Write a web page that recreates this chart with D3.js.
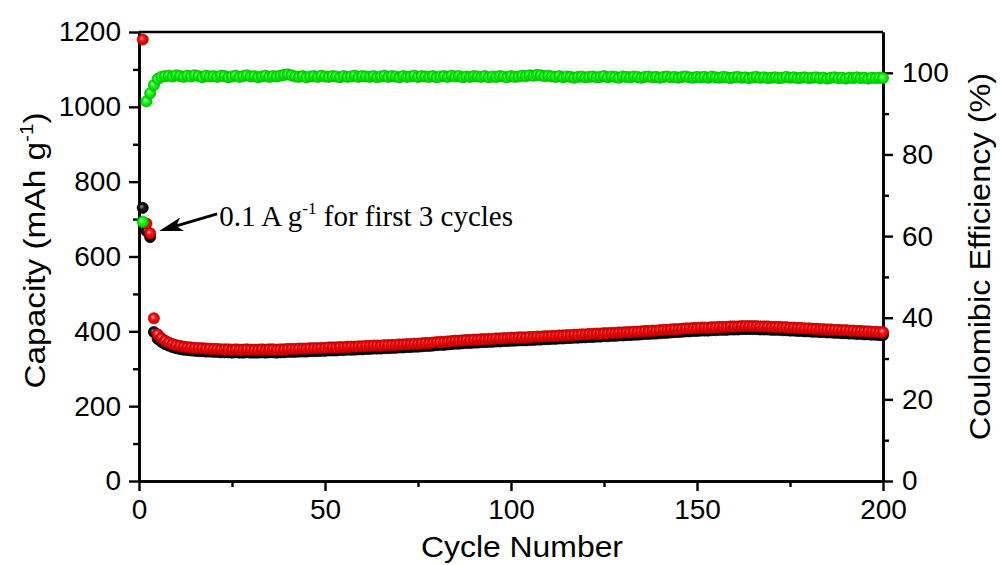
<!DOCTYPE html>
<html lang="en">
<head>
<meta charset="UTF-8">
<title>Cycling performance</title>
<script src="https://cdn.jsdelivr.net/npm/d3@7"></script>
<style>
  body { margin: 0; background: #fff; }
  svg text { font-family: "Liberation Sans", Arial, sans-serif; fill: #000; }
</style>
</head>
<body>
<script>
// discharge capacity (red), mAh/g, cycles 1..200
const discharge = [
  1180, 688, 662, 435, 392, 382, 375, 370, 366, 363,
  361, 359, 358, 357, 356, 355, 355, 354, 354, 353,
  353, 352, 352, 352, 351, 352, 351, 351, 352, 351,
  351, 351, 352, 351, 352, 352, 351, 352, 352, 353,
  353, 353, 354, 354, 354, 355, 355, 355, 356, 356,
  357, 357, 357, 358, 358, 359, 359, 359, 360, 360,
  361, 361, 362, 362, 362, 363, 363, 364, 364, 365,
  365, 366, 366, 367, 367, 368, 369, 369, 370, 371,
  372, 372, 373, 374, 375, 375, 376, 377, 377, 378,
  378, 379, 379, 380, 380, 381, 381, 382, 382, 383,
  383, 384, 384, 384, 385, 385, 386, 386, 387, 387,
  388, 388, 389, 389, 390, 390, 391, 391, 392, 392,
  393, 393, 394, 394, 395, 395, 396, 396, 397, 397,
  398, 398, 399, 399, 400, 401, 401, 402, 402, 403,
  404, 404, 405, 406, 406, 407, 408, 408, 409, 409,
  410, 410, 410, 411, 411, 412, 412, 412, 413, 413,
  413, 414, 414, 414, 414, 414, 413, 413, 413, 412,
  412, 412, 411, 411, 410, 410, 409, 409, 408, 408,
  407, 407, 406, 406, 405, 405, 404, 404, 403, 403,
  402, 402, 401, 401, 400, 400, 399, 399, 398, 398
];

// charge capacity (black)
const charge = [
  730, 668, 652, 398, 380, 372, 366, 362, 358, 355,
  353, 351, 350, 349, 348, 347, 347, 346, 346, 345,
  345, 344, 344, 344, 343, 344, 343, 343, 344, 343,
  343, 343, 344, 343, 344, 344, 343, 344, 344, 345,
  345, 345, 346, 346, 346, 347, 347, 347, 348, 348,
  349, 349, 349, 350, 350, 351, 351, 351, 352, 352,
  353, 353, 354, 354, 354, 355, 355, 356, 356, 357,
  357, 358, 358, 359, 359, 360, 361, 361, 362, 363,
  364, 364, 365, 366, 367, 367, 368, 369, 369, 370,
  370, 371, 371, 372, 372, 373, 373, 374, 374, 375,
  375, 376, 376, 376, 377, 377, 378, 378, 379, 379,
  380, 380, 381, 381, 382, 382, 383, 383, 384, 384,
  385, 385, 386, 386, 387, 387, 388, 388, 389, 389,
  390, 390, 391, 391, 392, 393, 393, 394, 394, 395,
  396, 396, 397, 398, 398, 399, 400, 400, 401, 401,
  402, 402, 402, 403, 403, 404, 404, 404, 405, 405,
  405, 406, 406, 406, 406, 406, 405, 405, 405, 404,
  404, 404, 403, 403, 402, 402, 401, 401, 400, 400,
  399, 399, 398, 398, 397, 397, 396, 396, 395, 395,
  394, 394, 393, 393, 392, 392, 391, 391, 390, 390
];

// coulombic efficiency (green), %
const efficiency = [
  63.5, 93.0, 95.0, 97.0, 98.5, 99.0, 99.2, 99.3, 99.1, 99.4,
  99.2, 99.0, 99.3, 99.1, 99.4, 99.2, 98.9, 99.3, 99.1, 99.2,
  99.0, 99.3, 99.2, 98.9, 99.1, 99.3, 99.0, 99.2, 99.4, 99.1,
  99.2, 98.9, 99.1, 99.3, 99.0, 99.2, 99.1, 99.3, 99.5, 99.6,
  99.4, 99.1, 99.0, 99.2, 98.9, 99.1, 99.2, 99.0, 99.3, 99.1,
  99.0, 99.2, 99.1, 98.9, 99.2, 99.0, 99.1, 99.3, 99.0, 99.2,
  99.1, 99.0, 99.2, 98.9, 99.1, 99.3, 99.0, 99.2, 99.1, 98.9,
  99.2, 99.0, 99.1, 99.3, 99.0, 99.2, 99.1, 99.0, 99.2, 98.9,
  99.1, 99.2, 99.0, 99.3, 99.1, 99.2, 98.9, 99.1, 99.0, 99.2,
  99.1, 99.0, 99.2, 98.9, 99.1, 99.0, 99.2, 99.1, 98.9, 99.2,
  99.0, 99.1, 99.3, 99.2, 99.4, 99.3, 99.5, 99.4, 99.2, 99.3,
  99.1, 99.0, 99.2, 98.9, 99.1, 99.0, 98.8, 99.0, 99.1, 98.9,
  99.0, 99.1, 98.9, 99.0, 99.2, 98.9, 99.1, 99.0, 98.8, 99.1,
  99.0, 98.9, 99.1, 99.0, 98.8, 99.0, 99.1, 98.9, 99.0, 98.8,
  99.0, 99.1, 98.9, 99.0, 98.8, 99.0, 99.1, 98.9, 98.8, 99.0,
  98.9, 99.0, 98.8, 99.1, 98.9, 98.8, 99.0, 98.9, 98.7, 98.9,
  99.0, 98.8, 98.9, 98.7, 98.9, 99.0, 98.8, 98.9, 98.7, 98.8,
  98.9, 98.7, 98.8, 99.0, 98.8, 98.9, 98.7, 98.8, 98.9, 98.7,
  98.8, 98.9, 98.7, 98.8, 98.6, 98.8, 98.9, 98.7, 98.8, 98.6,
  98.8, 98.7, 98.9, 98.7, 98.8, 98.6, 98.8, 98.7, 98.8, 98.7
];

const cycleTicks = [0, 50, 100, 150, 200];
const cycleMinor = [25, 75, 125, 175];
const capTicks = [0, 200, 400, 600, 800, 1000, 1200];
const capMinor = [100, 300, 500, 700, 900, 1100];
const ceTicks = [0, 20, 40, 60, 80, 100];
const ceMinor = [10, 30, 50, 70, 90];

// annotation, in data units (cycle, capacity)
const noteText = ["0.1 A g", "-1", " for first 3 cycles"];
const notePos = [21.6, 681];
const arrowFrom = [21.0, 714];
const arrowTo = [5.4, 668];

const W = 1000, H = 565;
const margin = {top: 32, right: 117, bottom: 84, left: 139};
const iw = W - margin.left - margin.right;
const ih = H - margin.top - margin.bottom;

const svg = d3.select("body").append("svg")
    .attr("width", W)
    .attr("height", H);

const defs = svg.append("defs");
function ball(id, hi, mid, edge) {
  const gr = defs.append("radialGradient")
      .attr("id", id)
      .attr("cx", "50%").attr("cy", "50%").attr("r", "50%")
      .attr("fx", "38%").attr("fy", "35%");
  gr.append("stop").attr("offset", "0%").attr("stop-color", hi);
  gr.append("stop").attr("offset", "45%").attr("stop-color", mid);
  gr.append("stop").attr("offset", "100%").attr("stop-color", edge);
}
ball("ballRed", "#ffb0b0", "#ff1010", "#c40000");
ball("ballBlack", "#9a9a9a", "#1a1a1a", "#000000");
ball("ballGreen", "#d0ffd0", "#10ff10", "#00c800");

const g = svg.append("g").attr("transform", `translate(${margin.left},${margin.top})`);

const x = d3.scaleLinear().domain([0, 200]).range([0, iw]);
const y = d3.scaleLinear().domain([0, 1200]).range([ih, 0]);
const y2 = d3.scaleLinear().domain([0, 110]).range([ih, 0]);
const fmt = d3.format("d");

function styleAxis(sel) {
  sel.select(".domain").attr("stroke-width", 2.6).attr("stroke", "#000");
  sel.selectAll(".tick line").attr("stroke-width", 2.4).attr("stroke", "#000");
  sel.selectAll(".tick text").attr("font-size", 28);
}

// minor ticks
g.append("g").attr("transform", `translate(0,${ih})`)
  .call(d3.axisBottom(x).tickValues(cycleMinor).tickSize(6).tickSizeOuter(0).tickFormat(""))
  .call(styleAxis);
g.append("g")
  .call(d3.axisLeft(y).tickValues(capMinor).tickSize(6).tickSizeOuter(0).tickFormat(""))
  .call(styleAxis);
g.append("g").attr("transform", `translate(${iw},0)`)
  .call(d3.axisRight(y2).tickValues(ceMinor).tickSize(6).tickSizeOuter(0).tickFormat(""))
  .call(styleAxis);

// major ticks
g.append("g").attr("transform", `translate(0,${ih})`)
  .call(d3.axisBottom(x).tickValues(cycleTicks).tickFormat(fmt).tickSize(10).tickSizeOuter(0).tickPadding(8))
  .call(styleAxis);
g.append("g")
  .call(d3.axisLeft(y).tickValues(capTicks).tickFormat(fmt).tickSize(10).tickSizeOuter(0).tickPadding(8))
  .call(styleAxis);
g.append("g").attr("transform", `translate(${iw},0)`)
  .call(d3.axisRight(y2).tickValues(ceTicks).tickFormat(fmt).tickSize(10).tickSizeOuter(0).tickPadding(9))
  .call(styleAxis);

// top frame line
g.append("line")
  .attr("x1", x(0)).attr("x2", x(200))
  .attr("y1", y(1200)).attr("y2", y(1200))
  .attr("stroke", "#000").attr("stroke-width", 2.6);

// points: black under red, green on top
function dots(data, scale, fill, stroke) {
  g.append("g").selectAll("circle")
    .data(data)
    .join("circle")
    .attr("cx", (d, i) => x(i + 1))
    .attr("cy", d => scale(d))
    .attr("r", 5.6)
    .attr("fill", fill)
    .attr("stroke", stroke)
    .attr("stroke-width", 0.7);
}
dots(charge, y, "url(#ballBlack)", "#000");
dots(discharge, y, "url(#ballRed)", "#b00000");
dots(efficiency, y2, "url(#ballGreen)", "#00b400");

// axis titles
svg.append("text")
  .attr("transform", `translate(522,557) scale(1.1,1)`)
  .attr("text-anchor", "middle")
  .attr("font-size", 29)
  .text("Cycle Number");

const yt = svg.append("text")
  .attr("transform", `translate(45,${margin.top + ih / 2 - 6}) rotate(-90) scale(1.15,1)`)
  .attr("text-anchor", "middle")
  .attr("font-size", 29);
yt.append("tspan").text("Capacity (mAh g");
yt.append("tspan").attr("font-size", 18).attr("dy", -12).text("-1");
yt.append("tspan").attr("dy", 12).text(")");

svg.append("text")
  .attr("transform", `translate(990,${margin.top + ih / 2}) rotate(-90) scale(1.12,1)`)
  .attr("text-anchor", "middle")
  .attr("font-size", 29)
  .text("Coulomibic Efficiency (%)");

// annotation arrow
const ax0 = x(arrowFrom[0]), ay0 = y(arrowFrom[1]);
const ax1 = x(arrowTo[0]), ay1 = y(arrowTo[1]);
const ang = Math.atan2(ay1 - ay0, ax1 - ax0);
const hl = 24, hw = 7;
const bx = ax1 - hl * Math.cos(ang), by = ay1 - hl * Math.sin(ang);
g.append("line")
  .attr("x1", ax0).attr("y1", ay0)
  .attr("x2", bx + 6 * Math.cos(ang)).attr("y2", by + 6 * Math.sin(ang))
  .attr("stroke", "#000").attr("stroke-width", 2.8);
g.append("path")
  .attr("d", `M${ax1},${ay1}L${bx - hw * Math.sin(ang)},${by + hw * Math.cos(ang)}L${bx + 6 * Math.cos(ang)},${by + 6 * Math.sin(ang)}L${bx + hw * Math.sin(ang)},${by - hw * Math.cos(ang)}Z`)
  .attr("fill", "#000");

// annotation text
const nt = g.append("text")
  .attr("x", x(notePos[0])).attr("y", y(notePos[1]))
  .style("font-family", "'Liberation Serif', 'Times New Roman', serif")
  .attr("font-size", 29);
nt.append("tspan").text(noteText[0]);
nt.append("tspan").attr("font-size", 17).attr("dy", -12).text(noteText[1]);
nt.append("tspan").attr("dy", 12).text(noteText[2]);
</script>
</body>
</html>
